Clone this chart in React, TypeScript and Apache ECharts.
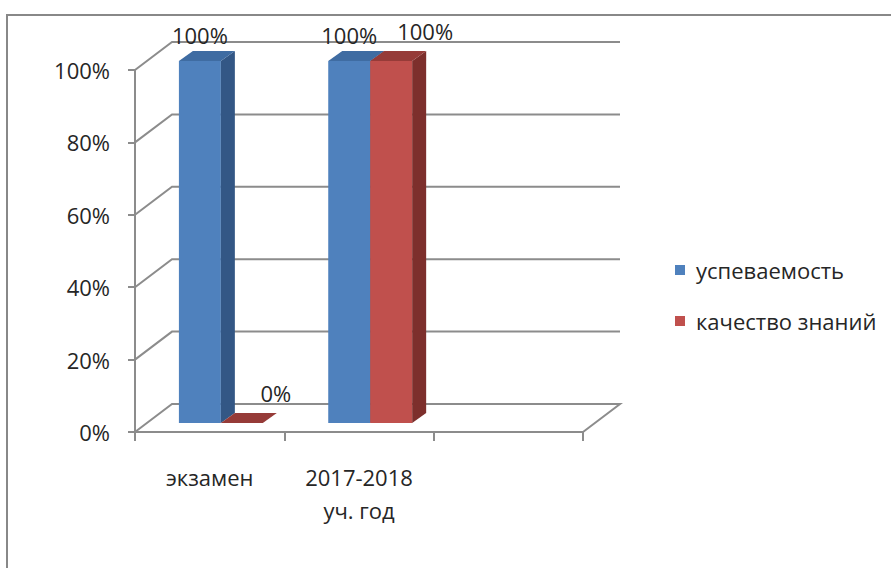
import React, { useEffect, useRef } from "react";
import * as echarts from "echarts";

const categories = ["экзамен", "2017-2018\nуч. год", ""];
const seriesNames = ["успеваемость", "качество знаний"];
const uspevaemost = [1, 1];
const kachestvo = [0, 1];
const yTickValues = [0, 0.2, 0.4, 0.6, 0.8, 1];

const FONT = "'Open Sans', 'Noto Sans', sans-serif";
const TEXT_COLOR = "#262626";
const GRID_COLOR = "#8c8c8c";
const FLOOR_DX = 37;
const FLOOR_DY = 28;
const BAR_RATIO = 0.281;
const SHIFT_X_RATIO = 0.075;
const SHIFT_Y = 9;
const BAR_DX = 14;
const BAR_DY = 10;

const palettes = [
  { front: "#4F81BD", side: "#335785", top: "#3F6CA2" },
  { front: "#C0504D", side: "#7D2F2C", top: "#963B38" },
];
const labelOffsets = [
  { dx: 0, dy: -26 },
  { dx: 34, dy: -30 },
];

function makeBarSeries(name: string, values: number[], sIdx: number) {
  const pal = palettes[sIdx];
  const lab = labelOffsets[sIdx];
  return {
    type: "custom",
    name,
    clip: false,
    itemStyle: { color: pal.front },
    encode: { x: 0, y: 1 },
    data: values.map((v, i) => [i, v]),
    renderItem: (params: any, api: any) => {
      const ci = api.value(0);
      const v = api.value(1);
      const top = api.coord([ci, v]);
      const base = api.coord([ci, 0]);
      const band = api.size([1, 0])[0];
      const w = band * BAR_RATIO;
      const sx = band * SHIFT_X_RATIO;
      const left = top[0] + sx + (sIdx - 1) * w;
      const right = left + w;
      const yt = top[1] - SHIFT_Y;
      const yb = base[1] - SHIFT_Y;
      const children: any[] = [];
      if (yb - yt > 0.5) {
        children.push({
          type: "rect",
          shape: { x: left, y: yt, width: w, height: yb - yt },
          style: { fill: pal.front },
        });
        children.push({
          type: "polygon",
          shape: {
            points: [
              [right, yt],
              [right + BAR_DX, yt - BAR_DY],
              [right + BAR_DX, yb - BAR_DY],
              [right, yb],
            ],
          },
          style: { fill: pal.side },
        });
      }
      children.push({
        type: "polygon",
        shape: {
          points: [
            [left, yt],
            [left + BAR_DX, yt - BAR_DY],
            [right + BAR_DX, yt - BAR_DY],
            [right, yt],
          ],
        },
        style: { fill: pal.top },
      });
      children.push({
        type: "text",
        style: {
          text: Math.round(v * 100) + "%",
          x: (left + right) / 2 + lab.dx,
          y: yt + lab.dy,
          align: "center",
          verticalAlign: "middle",
          fontFamily: FONT,
          fontSize: 22,
          fill: TEXT_COLOR,
        },
      });
      return { type: "group", children };
    },
  };
}

export default function App() {
  const ref = useRef<HTMLDivElement>(null);
  useEffect(() => {
    if (!ref.current) return;
    const chart = echarts.init(ref.current, null, { renderer: "svg" });
    chart.setOption({
      animation: false,
      backgroundColor: "#ffffff",
      graphic: [
        {
          type: "rect",
          shape: { x: 7, y: 15, width: 900, height: 600 },
          style: { fill: "none", stroke: "#888888", lineWidth: 2 },
          silent: true,
        },
      ],
      legend: {
        orient: "vertical",
        left: 670,
        top: 252,
        itemWidth: 10,
        itemHeight: 10,
        itemGap: 25,
        icon: "rect",
        data: seriesNames,
        textStyle: {
          fontFamily: FONT,
          fontSize: 22,
          color: TEXT_COLOR,
          lineHeight: 26,
          padding: [0, 0, 0, 6],
        },
      },
      grid: { left: 135, top: 70, width: 448, height: 362 },
      xAxis: {
        type: "category",
        data: categories,
        boundaryGap: true,
        axisLine: { show: true, lineStyle: { color: GRID_COLOR, width: 2 } },
        axisTick: { show: true, length: 9, alignWithLabel: false, lineStyle: { color: GRID_COLOR, width: 2 } },
        axisLabel: {
          margin: 28,
          fontFamily: FONT,
          fontSize: 22,
          color: TEXT_COLOR,
          lineHeight: 33,
          interval: 0,
        },
        splitLine: { show: false },
      },
      yAxis: {
        type: "value",
        min: 0,
        max: 1,
        interval: 0.2,
        axisLine: { show: true, lineStyle: { color: GRID_COLOR, width: 2 } },
        axisTick: { show: true, length: 7, lineStyle: { color: GRID_COLOR, width: 2 } },
        axisLabel: {
          margin: 25,
          fontFamily: FONT,
          fontSize: 22,
          color: TEXT_COLOR,
          formatter: (v: number) => Math.round(v * 100) + "%",
        },
        splitLine: { show: false },
      },
      series: [
        {
          type: "custom",
          name: "walls",
          silent: true,
          clip: false,
          encode: { x: 0, y: 1 },
          data: yTickValues.map((v) => [0, v]),
          renderItem: (params: any, api: any) => {
            const cs = params.coordSys;
            const v = api.value(1);
            const y = api.coord([0, v])[1];
            const x0 = cs.x;
            const x1 = cs.x + cs.width;
            const pts: number[][] = [
              [x0, y],
              [x0 + FLOOR_DX, y - FLOOR_DY],
              [x1 + FLOOR_DX, y - FLOOR_DY],
            ];
            if (v === 0) pts.push([x1, y]);
            return {
              type: "polyline",
              shape: { points: pts },
              style: { stroke: GRID_COLOR, lineWidth: 2, fill: "none" },
            };
          },
        },
        makeBarSeries(seriesNames[0], uspevaemost, 0),
        makeBarSeries(seriesNames[1], kachestvo, 1),
      ],
    });
    return () => chart.dispose();
  }, []);
  return (
    <div
      ref={ref}
      style={{ position: "fixed", left: 0, top: 0, width: 891, height: 568 }}
    />
  );
}
